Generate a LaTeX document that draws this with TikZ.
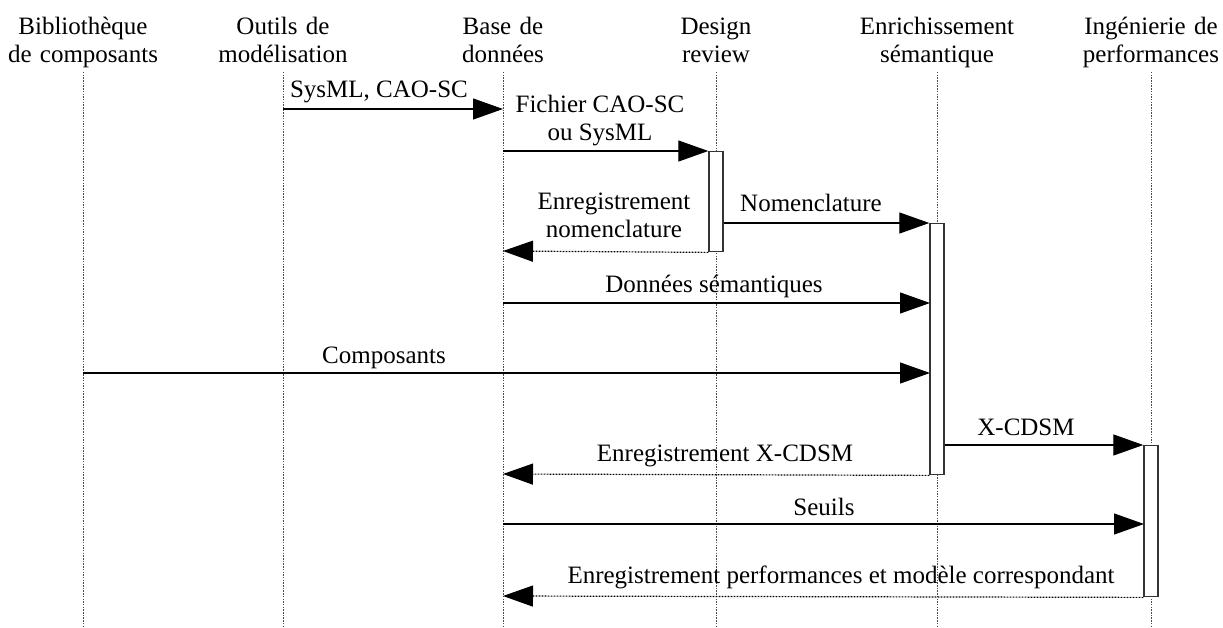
\documentclass[tikz,border=0pt]{standalone}
\usepackage{fontspec}
\setmainfont{Liberation Serif}
\usetikzlibrary{arrows.meta}
\begin{document}
\begin{tikzpicture}[x=1pt,y=-1pt,
  every node/.style={font=\fontsize{25}{28}\selectfont, inner sep=0pt},
  hdr/.style={text width=170pt, align=center, anchor=base},
  lbl/.style={align=center, anchor=base},
  life/.style={draw=black!70, line width=0.9pt, dash pattern=on 1.5pt off 1.2pt},
  act/.style={draw=black!80, line width=1.4pt, fill=white, minimum width=14pt, inner sep=0pt, anchor=north},
  msg/.style={draw=black, line width=1.2pt, -{Triangle[length=30pt,width=21pt]}},
  ret/.style={msg, dash pattern=on 1.8pt off 1.2pt},
]
\useasboundingbox (0,0) rectangle (1223,628);
\fill[white] (0,0) rectangle (1223,628);
% headers
\node[hdr] (h1) at (83,35) {Bibliothèque\\de composants};
\node[hdr] (h2) at (283,35) {Outils de\\modélisation};
\node[hdr] (h3) at (503,35) {Base de\\données};
\node[hdr] (h4) at (716,35) {Design\\review};
\node[hdr] (h5) at (937,35) {Enrichissement\\sémantique};
\node[hdr] (h6) at (1151,35) {Ingénierie de\\performances};
% lifelines
\foreach \i/\x in {1/83,2/283,3/503,4/716,5/937,6/1151}{
  \coordinate (t\i) at (\x,72);
  \coordinate (b\i) at (\x,628);
  \draw[life] (t\i) -- (b\i);
}
% activation boxes
\node[act, minimum height=100pt] (a4) at (716,151) {};
\node[act, minimum height=251pt] (a5) at (937,223) {};
\node[act, minimum height=151pt] (a6) at (1151,445) {};
% message end points
\coordinate (m1s) at (283,109); \coordinate (m1e) at (503,109);
\coordinate (m2s) at (503,151);
\coordinate (m3e) at (503,251);
\coordinate (m5s) at (503,303); \coordinate (m5e) at (930,303);
\coordinate (m6s) at (83,373);  \coordinate (m6e) at (930,373);
\coordinate (m8e) at (503,474);
\coordinate (m9s) at (503,524); \coordinate (m9e) at (1144,524);
\coordinate (m10e) at (503,596);
% messages
\draw[msg] (m1s) -- (m1e);
\draw[msg] (m2s) -- (a4.north west);
\draw[ret] (a4.south west) -- (m3e);
\draw[msg] (a4.east |- a5.north) -- (a5.north west);
\draw[msg] (m5s) -- (m5e);
\draw[msg] (m6s) -- (m6e);
\draw[msg] (a5.east |- a6.north) -- (a6.north west);
\draw[ret] (a5.south west) -- (m8e);
\draw[msg] (m9s) -- (m9e);
\draw[ret] (a6.south west) -- (m10e);
% labels
\node[lbl] (l1) at (379,98) {SysML, CAO-SC};
\node[lbl] (l2) at (600,141) {Fichier CAO-SC\\ou SysML};
\node[lbl] (l3) at (614,238) {Enregistrement\\nomenclature};
\node[lbl] (l4) at (811,212) {Nomenclature};
\node[lbl] (l5) at (714,293) {Données sémantiques};
\node[lbl] (l6) at (384,363) {Composants};
\node[lbl] (l7) at (1026,435) {X-CDSM};
\node[lbl] (l8) at (725,461) {Enregistrement X-CDSM};
\node[lbl] (l9) at (824,515) {Seuils};
\node[lbl] (l10) at (841,583) {Enregistrement performances et modèle correspondant};
\end{tikzpicture}
\end{document}
